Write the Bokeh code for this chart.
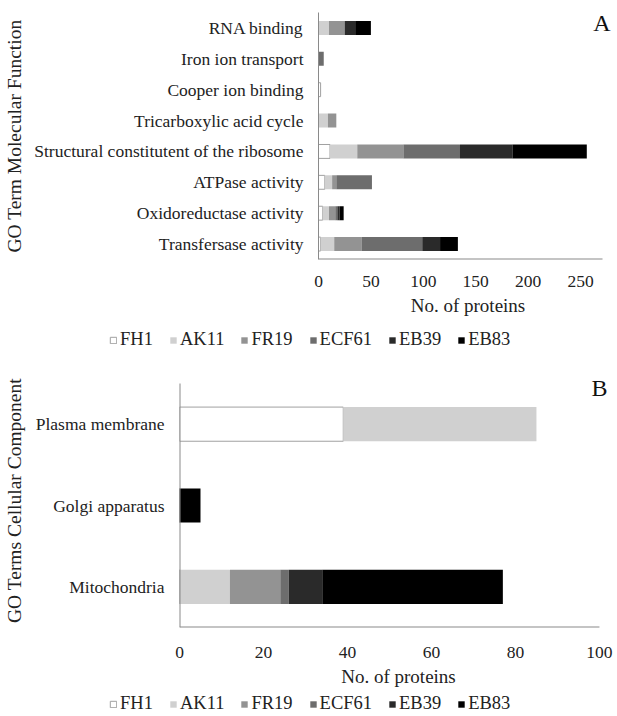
from bokeh.plotting import figure
from bokeh.layouts import column
from bokeh.models import (ColumnDataSource, FactorRange, Range1d, FixedTicker,
                          Legend, LegendItem, Label)
from bokeh.embed import file_html
from bokeh.resources import INLINE

# Cultivars / accessions stacked in every bar
series = ["FH1", "AK11", "FR19", "ECF61", "EB39", "EB83"]
colors = ["#ffffff", "#d0d0d0", "#939393", "#6d6d6d", "#2a2a2a", "#000000"]
outline = ["#a0a0a0", None, None, None, None, None]

# Panel A: GO molecular function terms (top to bottom)
mf_terms = ["RNA binding", "Iron ion transport", "Cooper ion binding",
            "Tricarboxylic acid cycle", "Structural constitutent of the ribosome",
            "ATPase activity", "Oxidoreductase activity", "Transfersase activity"]
mf_FH1 = [0, 0, 2, 0, 11, 6, 4, 2]
mf_AK11 = [10, 0, 0, 9, 26, 7, 6, 13]
mf_FR19 = [15, 0, 0, 8, 44, 4, 6, 26]
mf_ECF61 = [0, 5, 0, 0, 54, 34, 2, 58]
mf_EB39 = [10, 0, 0, 0, 50, 0, 2, 17]
mf_EB83 = [15, 0, 0, 0, 71, 0, 4, 17]
mf_ticks = [0, 50, 100, 150, 200, 250]
mf_axis_max = 271

# Panel B: GO cellular component terms (top to bottom)
cc_terms = ["Plasma membrane", "Golgi apparatus", "Mitochondria"]
cc_FH1 = [39, 0, 0]
cc_AK11 = [46, 0, 12]
cc_FR19 = [0, 0, 12]
cc_ECF61 = [0, 0, 2]
cc_EB39 = [0, 0, 8]
cc_EB83 = [0, 5, 43]
cc_ticks = [0, 20, 40, 60, 80, 100]
cc_axis_max = 100

FONT = "Liberation Serif"
TXT = "#222222"
AXIS = "#8a8a8a"


def style_axes(p, ytitle, tick_standoff, title_standoff, ylab_standoff):
    xa = p.xaxis[0]
    xa.axis_label = "No. of proteins"
    xa.axis_line_color = None
    xa.major_tick_line_color = None
    xa.minor_tick_line_color = None
    xa.major_label_standoff = tick_standoff
    xa.axis_label_standoff = title_standoff
    xa.major_label_text_font = FONT
    xa.major_label_text_font_size = "17.5px"
    xa.major_label_text_color = TXT
    xa.axis_label_text_font = FONT
    xa.axis_label_text_font_size = "19px"
    xa.axis_label_text_font_style = "normal"
    xa.axis_label_text_color = TXT

    ya = p.yaxis[0]
    ya.axis_label = ytitle
    ya.major_tick_line_color = None
    ya.minor_tick_line_color = None
    ya.major_tick_out = 0
    ya.major_label_standoff = 15
    ya.axis_label_standoff = ylab_standoff
    ya.major_label_text_font = FONT
    ya.major_label_text_font_size = "17.5px"
    ya.major_label_text_color = TXT
    ya.axis_label_text_font = FONT
    ya.axis_label_text_font_size = "19.5px"
    ya.axis_label_text_font_style = "normal"
    ya.axis_label_text_color = TXT

    p.outline_line_color = None
    p.xgrid.visible = False
    p.ygrid.visible = False
    p.frame_align = False


def letter(p, text, x, y, dy):
    p.add_layout(Label(x=x, y=y, x_offset=8, y_offset=dy, text=text,
                       text_font=FONT, text_font_size="24px", text_color="#111111",
                       text_align="right", text_baseline="alphabetic"))


def legend_strip(height, loc, source, ycol, y_range):
    # the stacked bars are repeated here outside the visible x range;
    # only their legend entries show in this strip
    q = figure(width=617, height=height, output_backend="svg", toolbar_location=None,
               x_range=Range1d(-2, -1), y_range=y_range,
               x_axis_location=None, y_axis_location=None, min_border=0)
    q.frame_align = False
    q.outline_line_color = None
    q.xgrid.visible = False
    q.ygrid.visible = False
    rs = q.hbar_stack(series, y=ycol, height=0.4, source=source,
                      fill_color=colors, line_color=outline, line_width=1)
    items = [LegendItem(label=name, renderers=[r]) for name, r in zip(series, rs)]
    q.add_layout(Legend(items=items, orientation="horizontal", location=loc,
                        glyph_width=8, glyph_height=8, label_standoff=3, spacing=16,
                        padding=0, margin=0, border_line_alpha=0,
                        background_fill_alpha=0, label_text_font=FONT,
                        label_text_font_size="18.5px", label_text_color=TXT,
                        label_height=20), "center")
    return q


# ---- Panel A -------------------------------------------------------------
srcA = ColumnDataSource(dict(term=mf_terms, FH1=mf_FH1, AK11=mf_AK11, FR19=mf_FR19,
                             ECF61=mf_ECF61, EB39=mf_EB39, EB83=mf_EB83))
pA = figure(width=617, height=325, output_backend="svg", toolbar_location=None,
            y_range=FactorRange(factors=list(reversed(mf_terms))),
            x_range=Range1d(0, 285.3),
            min_border_left=318, min_border_right=0, min_border_top=12,
            min_border_bottom=66)
pA.hbar_stack(series, y="term", height=0.45, source=srcA,
              fill_color=colors, line_color=outline, line_width=1)
pA.xaxis[0].ticker = FixedTicker(ticks=mf_ticks)
style_axes(pA, "GO Term Molecular Function", 10, 5, 6)
pA.yaxis[0].axis_line_color = AXIS
# horizontal axis line ends at the last axis value
pA.segment(x0=0, y0=0, x1=mf_axis_max, y1=0, line_color=AXIS, line_width=2)
letter(pA, "A", mf_axis_max, len(mf_terms), -10)

legA = legend_strip(30, (109, 5), srcA, "term",
                    FactorRange(factors=list(reversed(mf_terms))))

# ---- Panel B -------------------------------------------------------------
cc_pos = list(range(len(cc_terms) - 1, -1, -1))
srcB = ColumnDataSource(dict(pos=cc_pos, FH1=cc_FH1, AK11=cc_AK11, FR19=cc_FR19,
                             ECF61=cc_ECF61, EB39=cc_EB39, EB83=cc_EB83))
top_pad = 10 / 81.33
pB = figure(width=617, height=335, output_backend="svg", toolbar_location=None,
            y_range=Range1d(-0.5, len(cc_terms) - 0.5 + top_pad),
            x_range=Range1d(0, 104.3),
            min_border_left=179, min_border_right=0, min_border_top=18,
            min_border_bottom=63)
pB.hbar_stack(series, y="pos", height=0.42, source=srcB,
              fill_color=colors, line_color=outline, line_width=1)
pB.xaxis[0].ticker = FixedTicker(ticks=cc_ticks)
pB.yaxis[0].ticker = FixedTicker(ticks=cc_pos)
pB.yaxis[0].major_label_overrides = {pos: t for pos, t in zip(cc_pos, cc_terms)}
style_axes(pB, "GO Terms Cellular Component", 13, 5, 8)
pB.yaxis[0].axis_line_color = None
pB.segment(x0=0, y0=-0.5, x1=cc_axis_max, y1=-0.5, line_color=AXIS, line_width=2)
pB.segment(x0=0, y0=-0.5, x1=0, y1=len(cc_terms) - 0.5, line_color=AXIS, line_width=2)
letter(pB, "B", cc_axis_max, len(cc_terms) - 0.5, -4)

legB = legend_strip(26, (109, 2), srcB, "pos", Range1d(-0.5, len(cc_terms) - 0.5))

layout = column(pA, legA, pB, legB, spacing=0)
open("out.html", "w").write(file_html(layout, INLINE))
